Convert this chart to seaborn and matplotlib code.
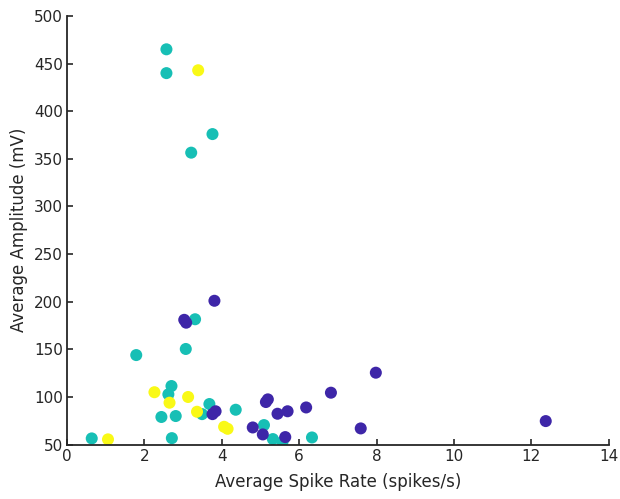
import matplotlib
matplotlib.use("Agg")
import matplotlib.pyplot as plt
import seaborn as sns
import pandas as pd

# Group A (teal)
teal_rate = [2.57, 2.57, 3.76, 3.21, 1.79, 3.07, 3.31, 2.70, 2.62, 3.68, 3.49, 4.36,
             2.44, 2.81, 5.09, 5.32, 5.57, 6.33, 0.64, 2.71]
teal_amp = [465, 440, 376, 356.5, 144, 150.4, 181.6, 111.5, 102.8, 92.6, 82, 86.6,
            79, 80, 70.5, 55.8, 53, 57.5, 56.5, 56.8]
# Group B (yellow)
yellow_rate = [3.39, 2.26, 3.13, 2.65, 3.36, 4.06, 4.15, 1.06]
yellow_amp = [443, 105, 100, 94, 84.5, 68.7, 66.6, 55.5]
# Group C (purple)
purple_rate = [3.03, 3.08, 3.81, 3.76, 3.84, 4.80, 5.06, 5.64, 5.19, 5.14, 5.44, 5.70,
               6.18, 6.82, 7.98, 7.59, 12.37]
purple_amp = [181, 178, 201, 82, 85, 68, 60.7, 57.9, 97.5, 94.7, 82.4, 85,
              89, 104.5, 125.5, 67, 74.7]

x_ticks = [0, 2, 4, 6, 8, 10, 12, 14]
y_ticks = [50, 100, 150, 200, 250, 300, 350, 400, 450, 500]

df = pd.DataFrame({
    "rate": teal_rate + yellow_rate + purple_rate,
    "amp": teal_amp + yellow_amp + purple_amp,
    "group": ["A"] * len(teal_rate) + ["B"] * len(yellow_rate) + ["C"] * len(purple_rate),
})
palette = {"A": "#17bfb5", "B": "#f9f916", "C": "#3e26a8"}

sns.set_style("ticks")
plt.rcParams["font.family"] = ["DejaVu Sans"]

fig = plt.figure(figsize=(6.2, 4.99), dpi=100)
ax = fig.add_axes([0.108, 0.109, 0.874, 0.859])
sns.scatterplot(data=df, x="rate", y="amp", hue="group", palette=palette,
                s=75, linewidth=0, legend=False, ax=ax)

ax.set_xlim(0, 14)
ax.set_ylim(50, 500)
ax.set_xticks(x_ticks)
ax.set_yticks(y_ticks)
ax.set_xlabel("Average Spike Rate (spikes/s)", fontsize=12, color="#262626", labelpad=7)
ax.set_ylabel("Average Amplitude (mV)", fontsize=12, color="#262626", labelpad=4)
ax.tick_params(direction="in", length=4.5, width=1.2, labelsize=11, colors="#262626", pad=3)
for side in ["top", "right"]:
    ax.spines[side].set_visible(False)
for side in ["left", "bottom"]:
    ax.spines[side].set_linewidth(1.3)
    ax.spines[side].set_color("#262626")

fig.savefig("out.png", dpi=100)
